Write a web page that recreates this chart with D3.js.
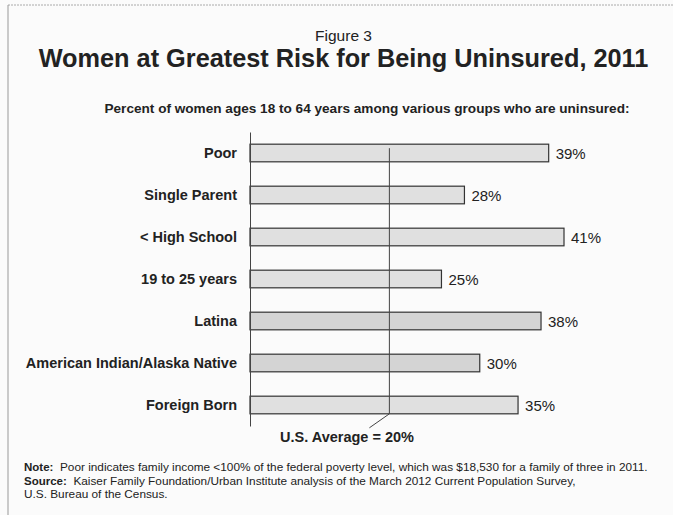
<!DOCTYPE html>
<html><head><meta charset="utf-8">
<script src="https://cdn.jsdelivr.net/npm/d3@7"></script>
<style>body{margin:0;background:#fff}svg{display:block}</style>
</head><body><svg id="c" width="673" height="515"></svg>
<script>
const categories = ["Poor","Single Parent","< High School","19 to 25 years","Latina","American Indian/Alaska Native","Foreign Born"];
const values = [39, 28, 41, 25, 38, 30, 35];
const usAverage = 20;
const avgLinePosition = 18.2; // position of the reference line as drawn in the picture
const notes = [
  ["Note:", "  Poor indicates family income <100% of the federal poverty level, which was $18,530 for a family of three in 2011."],
  ["Source:", "  Kaiser Family Foundation/Urban Institute analysis of the March 2012 Current Population Survey,"],
  ["", "U.S. Bureau of the Census."]
];

const svg = d3.select("#c");
const F = "Liberation Sans, Arial, sans-serif";
svg.append("rect").attr("x",0).attr("y",0).attr("width",673).attr("height",515).attr("fill","#fbfbfb");
svg.append("line").attr("x1",8).attr("x2",673).attr("y1",5).attr("y2",5).attr("stroke","#aaa").attr("stroke-dasharray","2,1");
svg.append("line").attr("x1",8).attr("x2",8).attr("y1",5).attr("y2",515).attr("stroke","#999");

svg.append("text").attr("x",343.5).attr("y",41).attr("text-anchor","middle").attr("font-family",F).attr("font-size",15.5).attr("fill","#222").text("Figure 3");
svg.append("text").attr("x",343.5).attr("y",67).attr("text-anchor","middle").attr("font-family",F).attr("font-size",25.3).attr("font-weight","bold").attr("fill","#222").text("Women at Greatest Risk for Being Uninsured, 2011");
svg.append("text").attr("x",367).attr("y",113).attr("text-anchor","middle").attr("font-family",F).attr("font-size",13.6).attr("font-weight","bold").attr("fill","#222").text("Percent of women ages 18 to 64 years among various groups who are uninsured:");

const x = d3.scaleLinear().domain([0, 41]).range([250, 564]);
const y = d3.scaleBand().domain(categories).range([132, 426]).paddingInner(0.58).paddingOuter(0.29);

const g = svg.append("g");
g.selectAll("rect.bar").data(categories).join("rect").attr("class","bar")
  .attr("x", x(0)).attr("y", d => y(d)).attr("height", y.bandwidth())
  .attr("width", (d,i) => x(values[i]) - x(0))
  .attr("fill", (d,i) => (i===4||i===5) ? "#d4d4d4" : "#e0e0e0").attr("stroke","#333").attr("stroke-width",1.2);

g.selectAll("text.val").data(categories).join("text").attr("class","val")
  .attr("x", (d,i) => x(values[i]) + 7).attr("y", d => y(d) + y.bandwidth()/2 + 5.5)
  .attr("font-family",F).attr("font-size",15).attr("fill","#222").text((d,i) => values[i] + "%");

const yAxis = d3.axisLeft(y).tickSize(0).tickPadding(13);
const ax = svg.append("g").attr("transform",`translate(${x(0)},0)`).call(yAxis);
ax.select(".domain").attr("stroke","#444");
ax.selectAll("text").attr("font-family",F).attr("font-size",14.5).attr("font-weight","bold").attr("fill","#222");

const ax0 = x(avgLinePosition);
const yb = y(categories[6]) + y.bandwidth();
svg.append("line").attr("x1",ax0).attr("x2",ax0).attr("y1",y(categories[0])+4).attr("y2",yb).attr("stroke","#444");
svg.append("line").attr("x1",ax0).attr("x2",ax0-20).attr("y1",yb).attr("y2",yb+14).attr("stroke","#444");
svg.append("text").attr("x",347).attr("y",442).attr("text-anchor","middle").attr("font-family",F).attr("font-size",14.5).attr("font-weight","bold").attr("fill","#222").text("U.S. Average = " + usAverage + "%");

notes.forEach((n,i) => {
  const t = svg.append("text").attr("x",24).attr("y",471 + i*13.5).attr("font-family","Liberation Sans Narrow, Arial Narrow, sans-serif").attr("font-size",11.8).attr("fill","#222").attr("xml:space","preserve").style("white-space","pre");
  t.append("tspan").attr("font-weight","bold").attr("font-family",F).attr("font-size",11.5).text(n[0]);
  t.append("tspan").text(n[1]);
});
</script></body></html>
